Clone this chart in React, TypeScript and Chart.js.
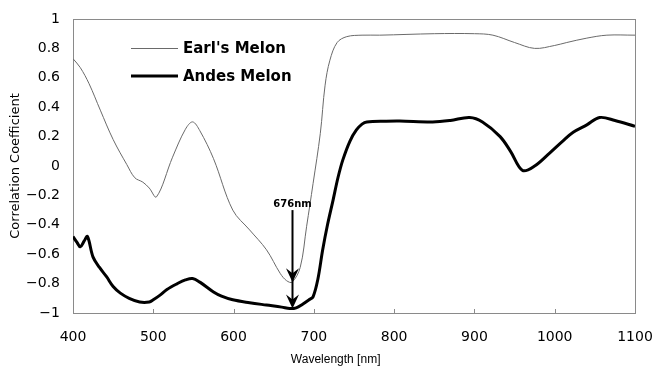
import React, { useEffect, useRef } from "react";
import { Chart, registerables } from "chart.js";

Chart.register(...registerables);

// ---- data ----
const seriesNames = ["Earl's Melon", "Andes Melon"];

const earlNm = [400, 409, 420, 434, 450, 467, 477, 487, 495, 504, 524, 540, 549, 558, 575, 599, 620, 641, 658, 666, 673, 683, 691, 699, 708, 714, 720, 729, 741, 760, 782, 850, 900, 923, 950, 975, 1000, 1015, 1040, 1065, 1100];
const earlR = [0.73, 0.67, 0.56, 0.38, 0.18, 0.01, -0.08, -0.11, -0.15, -0.21, 0.06, 0.25, 0.30, 0.24, 0.05, -0.30, -0.435, -0.57, -0.73, -0.78, -0.79, -0.69, -0.41, -0.12, 0.22, 0.55, 0.72, 0.84, 0.88, 0.89, 0.89, 0.90, 0.90, 0.89, 0.84, 0.80, 0.82, 0.84, 0.87, 0.89, 0.89];

const andesNm = [400, 405, 409, 414, 418, 425, 433, 442, 450, 459, 470, 483, 495, 500, 508, 517, 530, 540, 549, 558, 575, 585, 599, 620, 641, 660, 670, 678, 686, 694, 699, 705, 711, 717, 724, 730, 736, 745, 753, 760, 766, 790, 807, 848, 870, 894, 910, 932, 945, 960, 975, 994, 1010, 1023, 1040, 1056, 1075, 1100];
const andesR = [-0.48, -0.52, -0.55, -0.51, -0.48, -0.62, -0.69, -0.755, -0.82, -0.865, -0.90, -0.925, -0.925, -0.91, -0.88, -0.84, -0.80, -0.775, -0.765, -0.79, -0.857, -0.885, -0.91, -0.93, -0.946, -0.96, -0.97, -0.965, -0.94, -0.91, -0.89, -0.77, -0.57, -0.40, -0.23, -0.08, 0.04, 0.17, 0.245, 0.285, 0.30, 0.305, 0.306, 0.30, 0.31, 0.33, 0.30, 0.20, 0.10, -0.03, 0.00, 0.09, 0.17, 0.23, 0.28, 0.33, 0.31, 0.27];

const xTickValues = [400, 500, 600, 700, 800, 900, 1000, 1100];
const yTickValues = [-1, -0.8, -0.6, -0.4, -0.2, 0, 0.2, 0.4, 0.6, 0.8, 1];

const xTitle = "Wavelength [nm]";
const yTitle = "Correlation Coefficient";

// annotation: arrow at the common minimum
const arrowNm = [673];
const arrowLabel = ["676nm"];
const arrowValues = [-0.3, -0.79, -0.97]; // line start, first head, second head

const EARL_COLOR = "#6a6a6a";
const ANDES_COLOR = "#000000";
const BOX_COLOR = "#8a8a8a";

const fmtY = (v: number) => {
  const r = Math.round(v * 10) / 10;
  return String(r).replace("-", "\u2212");
};

function drawHead(ctx: CanvasRenderingContext2D, x: number, yTip: number) {
  ctx.beginPath();
  ctx.moveTo(x, yTip);
  ctx.lineTo(x - 6.5, yTip - 14);
  ctx.lineTo(x, yTip - 9);
  ctx.lineTo(x + 6.5, yTip - 14);
  ctx.closePath();
  ctx.fill();
}

const overlay = {
  id: "overlay",
  beforeDatasetsDraw(chart: any) {
    const { ctx, chartArea } = chart;
    const xs = chart.scales.x;
    ctx.save();
    ctx.strokeStyle = BOX_COLOR;
    ctx.lineWidth = 1;
    ctx.strokeRect(
      Math.round(chartArea.left) + 0.5,
      Math.round(chartArea.top) + 0.5,
      Math.round(chartArea.right - chartArea.left),
      Math.round(chartArea.bottom - chartArea.top)
    );
    // inward tick marks on the x axis
    ctx.beginPath();
    for (const v of xTickValues.slice(1, -1)) {
      const px = Math.round(xs.getPixelForValue(v)) + 0.5;
      ctx.moveTo(px, chartArea.bottom);
      ctx.lineTo(px, chartArea.bottom - 4);
    }
    ctx.stroke();
    ctx.restore();
  },
  afterDatasetsDraw(chart: any) {
    const { ctx, chartArea } = chart;
    const xs = chart.scales.x;
    const ys = chart.scales.y;
    ctx.save();
    // arrow
    const ax = Math.round(xs.getPixelForValue(arrowNm[0])) + 0.5;
    const yTop = ys.getPixelForValue(arrowValues[0]);
    const yH1 = ys.getPixelForValue(arrowValues[1]);
    const yH2 = ys.getPixelForValue(arrowValues[2]);
    ctx.strokeStyle = "#000";
    ctx.fillStyle = "#000";
    ctx.lineWidth = 2;
    ctx.beginPath();
    ctx.moveTo(ax, yTop);
    ctx.lineTo(ax, yH2 - 4);
    ctx.stroke();
    drawHead(ctx, ax, yH1);
    drawHead(ctx, ax, yH2);
    ctx.font = "bold 10px 'DejaVu Sans'";
    ctx.textAlign = "center";
    ctx.textBaseline = "bottom";
    ctx.fillText(arrowLabel[0], ax, yTop - 1);

    // legend
    const lx0 = chartArea.left + 58;
    const lx1 = chartArea.left + 105;
    const rows = [
      { y: chartArea.top + 29, color: EARL_COLOR, w: 1, label: seriesNames[0] },
      { y: chartArea.top + 57, color: ANDES_COLOR, w: 3, label: seriesNames[1] },
    ];
    ctx.font = "bold 15px 'DejaVu Sans'";
    ctx.textAlign = "left";
    ctx.textBaseline = "middle";
    for (const r of rows) {
      ctx.strokeStyle = r.color;
      ctx.lineWidth = r.w;
      ctx.beginPath();
      ctx.moveTo(lx0, r.y + (r.w === 1 ? 0.5 : 0));
      ctx.lineTo(lx1, r.y + (r.w === 1 ? 0.5 : 0));
      ctx.stroke();
      ctx.fillStyle = "#000";
      ctx.fillText(r.label, lx1 + 5, r.y + 1);
    }
    ctx.restore();
  },
};

export default function App() {
  const ref = useRef<HTMLCanvasElement | null>(null);

  useEffect(() => {
    if (!ref.current) return;
    const chart = new Chart(ref.current, {
      type: "line",
      data: {
        datasets: [
          {
            label: seriesNames[0],
            data: earlNm.map((x, i) => ({ x, y: earlR[i] })),
            borderColor: EARL_COLOR,
            borderWidth: 1,
            pointRadius: 0,
            tension: 0.35,
            fill: false,
          },
          {
            label: seriesNames[1],
            data: andesNm.map((x, i) => ({ x, y: andesR[i] })),
            borderColor: ANDES_COLOR,
            borderWidth: 3,
            pointRadius: 0,
            tension: 0.35,
            fill: false,
          },
        ],
      },
      options: {
        responsive: false,
        animation: false,
        layout: { padding: { top: 19, right: 20, left: 0, bottom: 0 } },
        plugins: {
          legend: { display: false },
          tooltip: { enabled: false },
        },
        scales: {
          x: {
            type: "linear",
            min: 400,
            max: 1100,
            afterBuildTicks: (s: any) => {
              s.ticks = xTickValues.map((v) => ({ value: v }));
            },
            ticks: {
              color: "#000",
              font: { family: "'DejaVu Sans'", size: 14 },
              padding: 16,
              maxRotation: 0,
              autoSkip: false,
              callback: (v: any) => String(v),
            },
            grid: { display: false, drawTicks: false },
            border: { display: false },
            title: {
              display: true,
              text: xTitle + "           ",
              color: "#000",
              font: { family: "'Liberation Sans'", size: 12 },
              padding: { top: 0, bottom: 2 },
            },
            afterFit: (s: any) => {
              s.height = 56;
              s.paddingLeft = 0;
              s.paddingRight = 0;
            },
          },
          y: {
            type: "linear",
            min: -1,
            max: 1,
            afterBuildTicks: (s: any) => {
              s.ticks = yTickValues.map((v) => ({ value: v }));
            },
            ticks: {
              color: "#000",
              font: { family: "'DejaVu Sans'", size: 14 },
              padding: 13,
              autoSkip: false,
              callback: (v: any) => fmtY(Number(v)),
            },
            grid: { display: false, drawTicks: false },
            border: { display: false },
            title: {
              display: true,
              text: yTitle,
              color: "#000",
              font: { family: "'DejaVu Sans'", size: 13 },
              padding: { top: 8, bottom: 0 },
            },
            afterFit: (s: any) => {
              s.width = 73;
              s.paddingTop = 0;
              s.paddingBottom = 0;
            },
          },
        },
      },
      plugins: [overlay],
    } as any);
    return () => chart.destroy();
  }, []);

  return (
    <div style={{ position: "fixed", left: 0, top: 0, width: 655, height: 369, background: "#fff" }}>
      <canvas ref={ref} width={655} height={369} />
    </div>
  );
}
